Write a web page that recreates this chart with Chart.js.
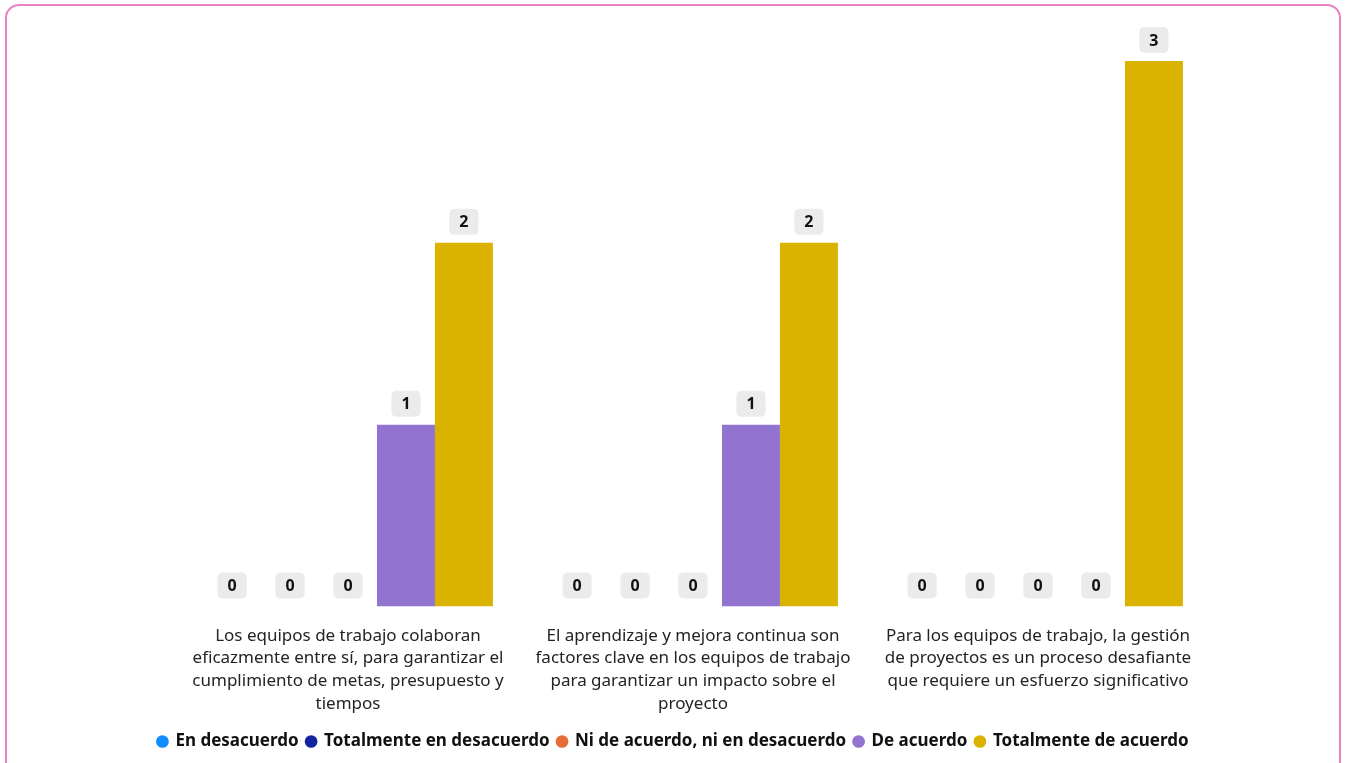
<!DOCTYPE html>
<html lang="es">
<head>
<meta charset="utf-8">
<title>Equipos de trabajo y gestión de proyectos</title>
<script src="https://cdn.jsdelivr.net/npm/chart.js@4.4.1/dist/chart.umd.min.js"></script>
<style>
  html, body { margin: 0; padding: 0; background: #ffffff; overflow: hidden; }
  #frame {
    position: absolute; left: 5px; top: 4px; width: 1332px; height: 800px;
    border: 2px solid #ec82c5; border-radius: 14px; box-sizing: content-box;
  }
  #chart { position: absolute; left: 0; top: 0; }
</style>
</head>
<body>
<div id="frame"></div>
<canvas id="chart" width="1348" height="763"></canvas>
<script>
// Survey statements (x-axis categories, pre-wrapped into lines)
const categories = [
  ["Los equipos de trabajo colaboran", "eficazmente entre sí, para garantizar el", "cumplimiento de metas, presupuesto y", "tiempos"],
  ["El aprendizaje y mejora continua son", "factores clave en los equipos de trabajo", "para garantizar un impacto sobre el", "proyecto"],
  ["Para los equipos de trabajo, la gestión", "de proyectos es un proceso desafiante", "que requiere un esfuerzo significativo"]
];

// Response counts per answer option
const enDesacuerdo = [0, 0, 0];
const totalmenteEnDesacuerdo = [0, 0, 0];
const niDeAcuerdoNiEnDesacuerdo = [0, 0, 0];
const deAcuerdo = [1, 1, 0];
const totalmenteDeAcuerdo = [2, 2, 3];

const seriesNames = ["En desacuerdo", "Totalmente en desacuerdo", "Ni de acuerdo, ni en desacuerdo", "De acuerdo", "Totalmente de acuerdo"];
const seriesValues = [enDesacuerdo, totalmenteEnDesacuerdo, niDeAcuerdoNiEnDesacuerdo, deAcuerdo, totalmenteDeAcuerdo];
const seriesColors = ["#118dff", "#12239e", "#e66c37", "#9273d0", "#d9b300"];

const FONT = "'Noto Sans', 'Open Sans', sans-serif";

// Value badges drawn above every bar (including zero-height ones)
const valueBadges = {
  id: "valueBadges",
  afterDatasetsDraw(chart) {
    const ctx = chart.ctx;
    ctx.save();
    ctx.font = "bold 16px " + FONT;
    ctx.textAlign = "center";
    ctx.textBaseline = "middle";
    chart.data.datasets.forEach((ds, di) => {
      const meta = chart.getDatasetMeta(di);
      if (meta.hidden) return;
      meta.data.forEach((bar, i) => {
        const text = String(ds.data[i]);
        const w = ctx.measureText(text).width + 20;
        const h = 26;
        const x = bar.x - w / 2;
        const y = bar.y - 8 - h;
        ctx.fillStyle = "#ebebeb";
        ctx.beginPath();
        ctx.roundRect(x, y, w, h, 5);
        ctx.fill();
        ctx.fillStyle = "#111111";
        ctx.fillText(text, bar.x, y + h / 2 + 1);
      });
    });
    ctx.restore();
  }
};

new Chart(document.getElementById("chart"), {
  type: "bar",
  data: {
    labels: categories,
    datasets: seriesNames.map((name, k) => ({
      label: name,
      data: seriesValues[k],
      backgroundColor: seriesColors[k],
      borderWidth: 0,
      barPercentage: 1,
      categoryPercentage: 0.84
    }))
  },
  options: {
    responsive: false,
    animation: false,
    devicePixelRatio: 1,
    layout: { padding: { left: 136, right: 137.5, top: 61, bottom: 3 } },
    scales: {
      x: {
        grid: { display: false },
        border: { display: false },
        ticks: {
          autoSkip: false,
          maxRotation: 0,
          padding: 10,
          color: "#252423",
          font: { family: FONT, size: 17, lineHeight: 1.33 }
        }
      },
      y: {
        min: 0,
        max: 3,
        grid: { display: false },
        border: { display: false },
        ticks: { display: false },
        // empty gutter on the left of the plot
        afterFit(scale) { scale.width = 39.5; }
      }
    },
    plugins: {
      tooltip: { enabled: false },
      legend: {
        position: "bottom",
        labels: {
          usePointStyle: true,
          pointStyle: "circle",
          boxWidth: 9,
          boxHeight: 9,
          padding: 8,
          color: "#111111",
          font: { family: FONT, size: 17, weight: "bold" }
        }
      }
    }
  },
  plugins: [valueBadges]
});
</script>
</body>
</html>
